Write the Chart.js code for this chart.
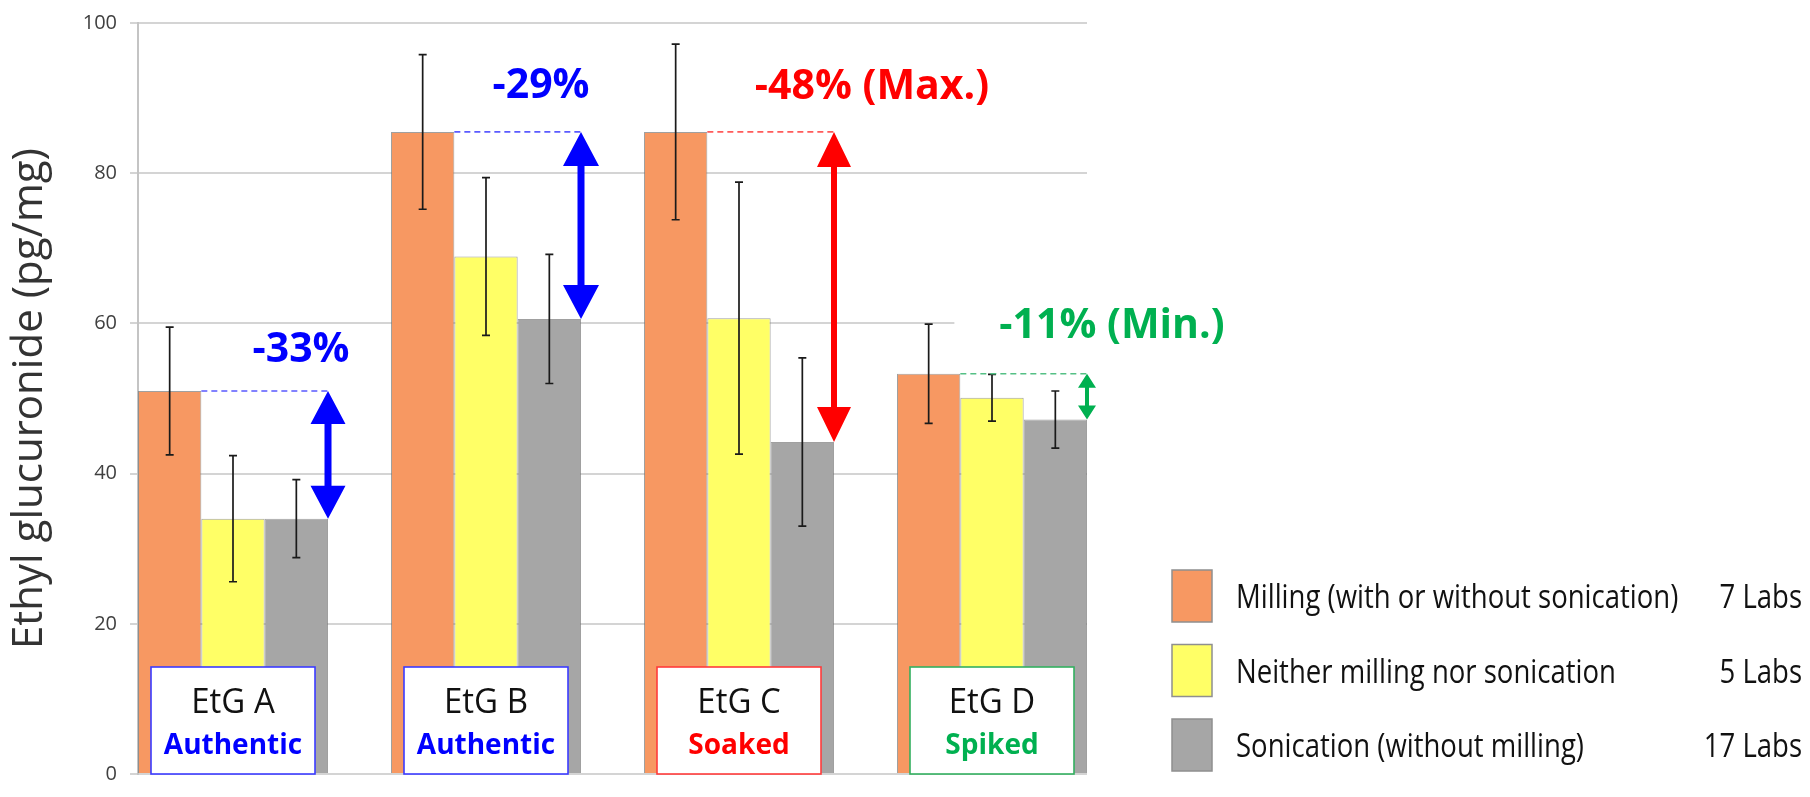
<!DOCTYPE html>
<html><head><meta charset="utf-8">
<script src="https://cdn.jsdelivr.net/npm/chart.js@4/dist/chart.umd.min.js"></script>
<style>html,body{margin:0;padding:0;background:#fff;overflow:hidden}#wrap{width:1810px;height:797px}</style>
</head><body><div id="wrap"><canvas id="c" width="1810" height="797"></canvas></div>
<script>
// ---------------- data ----------------
const categories = ['EtG A', 'EtG B', 'EtG C', 'EtG D'];
const categoryTypes = ['Authentic', 'Authentic', 'Soaked', 'Spiked'];
const seriesNames = ['Milling (with or without sonication)', 'Neither milling nor sonication', 'Sonication (without milling)'];
const labCounts = ['7 Labs', '5 Labs', '17 Labs'];
const milling = [51.0, 85.5, 85.5, 53.3];
const millingErr = [8.5, 10.3, 11.7, 6.6];
const neither = [34.0, 68.9, 60.7, 50.1];
const neitherErr = [8.4, 10.5, 18.1, 3.1];
const sonication = [34.0, 60.6, 44.2, 47.2];
const sonicationErr = [5.2, 8.6, 11.2, 3.8];
const changeLabels = ['-33%', '-29%', '-48% (Max.)', '-11% (Min.)'];
const yMin = 0, yMax = 100, yStep = 20;

// ---------------- styles ----------------
const FONT = "'Open Sans', 'DejaVu Sans', sans-serif";
const seriesColors = ['#F79862', '#FFFF66', '#A6A6A6'];
const typeColors = ['#0000FF', '#0000FF', '#FF0000', '#00B050'];
const boxBorderColors = ['#3B3BFF', '#3B3BFF', '#FF3B3B', '#33B060'];
const dashColors = ['#5A5AFF', '#5A5AFF', '#FF5A5A', '#55C085'];
const labelOffsets = [{dx: -27, dy: -29}, {dx: -40, dy: -34}, {dx: 38, dy: -33}, {dx: 25, dy: -36}];
const arrowSizes = [{shaft: 7, headW: 35, headL: 33}, {shaft: 7, headW: 36, headL: 34}, {shaft: 6, headW: 34, headL: 35}, {shaft: 4, headW: 18, headL: 14}];
const labelBg = [false, false, false, true];
const GROUP_FRACTION = 0.751;

const values = [milling, neither, sonication];
const errors = [millingErr, neitherErr, sonicationErr];

function drawText(ctx, text, x, y, font, color, align, sx) {
  ctx.save();
  ctx.font = font; ctx.fillStyle = color; ctx.textBaseline = 'alphabetic'; ctx.textAlign = align;
  ctx.translate(x, y); ctx.scale(sx || 1, 1);
  ctx.fillText(text, 0, 0);
  ctx.restore();
}

const overlayPlugin = {
  id: 'overlay',
  afterDraw(chart) {
    const ctx = chart.ctx;
    const xs = chart.scales.x, ys = chart.scales.y;
    const area = chart.chartArea;
    // error bars
    ctx.save();
    ctx.strokeStyle = '#1a1a1a'; ctx.lineWidth = 1.7;
    values.forEach((vals, d) => {
      const meta = chart.getDatasetMeta(d);
      meta.data.forEach((bar, i) => {
        const {x} = bar.getProps(['x'], true);
        const yt = ys.getPixelForValue(vals[i] + errors[d][i]);
        const yb = ys.getPixelForValue(vals[i] - errors[d][i]);
        ctx.beginPath();
        ctx.moveTo(x, yt); ctx.lineTo(x, yb);
        ctx.moveTo(x - 4, yt); ctx.lineTo(x + 4, yt);
        ctx.moveTo(x - 4, yb); ctx.lineTo(x + 4, yb);
        ctx.stroke();
      });
    });
    ctx.restore();

    // change arrows, dashed reference lines and labels
    const m0 = chart.getDatasetMeta(0), m2 = chart.getDatasetMeta(2);
    categories.forEach((c, i) => {
      const ob = m0.data[i].getProps(['x', 'width'], true);
      const gb = m2.data[i].getProps(['x', 'width'], true);
      const ax = gb.x + gb.width / 2;
      const yTop = ys.getPixelForValue(milling[i]);
      const yBot = ys.getPixelForValue(sonication[i]);
      ctx.save();
      ctx.strokeStyle = dashColors[i]; ctx.lineWidth = 1.6; ctx.setLineDash([6, 4]);
      ctx.beginPath(); ctx.moveTo(ob.x + ob.width / 2, yTop); ctx.lineTo(ax, yTop); ctx.stroke();
      ctx.restore();
      const s = arrowSizes[i];
      ctx.save();
      ctx.fillStyle = typeColors[i];
      ctx.beginPath();
      ctx.moveTo(ax, yTop); ctx.lineTo(ax - s.headW / 2, yTop + s.headL); ctx.lineTo(ax + s.headW / 2, yTop + s.headL); ctx.closePath();
      ctx.moveTo(ax, yBot); ctx.lineTo(ax - s.headW / 2, yBot - s.headL); ctx.lineTo(ax + s.headW / 2, yBot - s.headL); ctx.closePath();
      ctx.fill();
      ctx.fillRect(ax - s.shaft / 2, yTop + s.headL - 1, s.shaft, (yBot - yTop) - 2 * s.headL + 2);
      ctx.restore();
      const lx = ax + labelOffsets[i].dx, ly = yTop + labelOffsets[i].dy;
      const lfont = 'bold 41px ' + FONT;
      if (labelBg[i]) {
        ctx.save(); ctx.font = lfont;
        const w = ctx.measureText(changeLabels[i]).width;
        ctx.fillStyle = '#fff';
        ctx.fillRect(lx - w / 2 - 45, ly - 38, w + 50, 50);
        ctx.restore();
      }
      drawText(ctx, changeLabels[i], lx, ly, lfont, typeColors[i], 'center', 1);
    });

    // category boxes
    categories.forEach((c, i) => {
      const cx = xs.getPixelForValue(i);
      const bw = 164, bh = 107;
      const top = area.bottom - bh;
      ctx.save();
      ctx.fillStyle = '#fff';
      ctx.fillRect(cx - bw / 2, top, bw, bh);
      ctx.strokeStyle = boxBorderColors[i]; ctx.lineWidth = 1.6;
      ctx.strokeRect(cx - bw / 2, top, bw, bh);
      ctx.restore();
      drawText(ctx, c, cx, top + 46, '34px ' + FONT, '#111', 'center', 0.97);
      drawText(ctx, categoryTypes[i], cx, top + 87, 'bold 28px ' + FONT, typeColors[i], 'center', 1);
    });

    // legend
    chart.data.datasets.forEach((ds, d) => {
      const sx = 1172, sy = 570 + d * 74.5;
      ctx.save();
      ctx.fillStyle = ds.backgroundColor;
      ctx.fillRect(sx, sy, 40, 52);
      ctx.strokeStyle = '#8f8f8f'; ctx.lineWidth = 1.5;
      ctx.strokeRect(sx, sy, 40, 52);
      ctx.restore();
      drawText(ctx, ds.label, 1236, sy + 38, '32px ' + FONT, '#111', 'left', 0.86);
      drawText(ctx, labCounts[d], 1802, sy + 38, '32px ' + FONT, '#111', 'right', 0.86);
    });
  }
};

Chart.defaults.font.family = FONT;
new Chart(document.getElementById('c'), {
  type: 'bar',
  data: {
    datasets: seriesNames.map((name, d) => ({
      label: name,
      data: values[d].map((v, i) => ({x: i, y: v})),
      backgroundColor: seriesColors[d],
      borderColor: 'rgba(120,120,120,0.7)',
      borderWidth: 1,
      categoryPercentage: GROUP_FRACTION,
      barPercentage: 1.0
    }))
  },
  options: {
    responsive: false,
    animation: false,
    devicePixelRatio: 1,
    layout: {padding: {left: 0, top: 20, right: 723, bottom: 9}},
    plugins: {legend: {display: false}, tooltip: {enabled: false}},
    scales: {
      x: {
        type: 'linear',
        display: false,
        min: -GROUP_FRACTION / 2,
        max: categories.length - 1 + GROUP_FRACTION / 2,
        offset: false,
        ticks: {stepSize: 1, includeBounds: false},
        grid: {display: false}
      },
      y: {
        min: yMin, max: yMax,
        afterFit(scale) { scale.width = 138; },
        ticks: {stepSize: yStep, padding: 13, color: '#404040', font: {size: 20, lineHeight: 1}},
        grid: {color: '#D4D4D4', lineWidth: 2, tickLength: 8, drawTicks: true},
        border: {color: '#C4C4C4', width: 2},
        title: {display: true, text: 'Ethyl glucuronide (pg/mg)', color: '#333', font: {size: 42}, padding: {top: 5, bottom: 0}}
      }
    }
  },
  plugins: [overlayPlugin]
});
</script>
</body></html>
